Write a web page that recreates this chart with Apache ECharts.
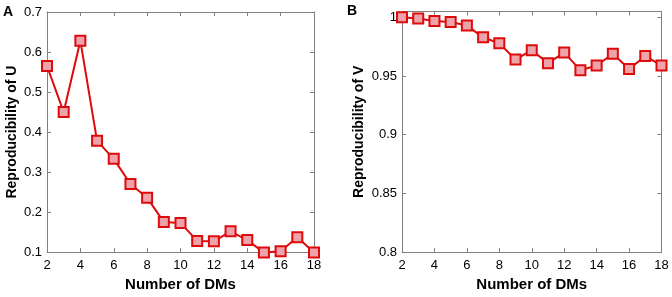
<!DOCTYPE html>
<html>
<head>
<meta charset="utf-8">
<script src="https://cdn.jsdelivr.net/npm/echarts@6/dist/echarts.min.js"></script>
<style>
  html, body { margin: 0; padding: 0; background: #fff; }
  #chart { width: 672px; height: 297px; }
</style>
</head>
<body>
<div id="chart"></div>
<script>
// number of DMs
const dmCounts = [2, 3, 4, 5, 6, 7, 8, 9, 10, 11, 12, 13, 14, 15, 16, 17, 18];
// panel A: reproducibility of U
const reproU = [0.565, 0.450, 0.628, 0.378, 0.333, 0.270, 0.236, 0.175, 0.173,
                0.128, 0.127, 0.152, 0.130, 0.099, 0.102, 0.137, 0.099];
// panel B: reproducibility of V
const reproV = [1.000, 0.999, 0.997, 0.996, 0.993, 0.983, 0.978, 0.964, 0.972,
                0.961, 0.970, 0.955, 0.959, 0.969, 0.956, 0.967, 0.959];

const axisColor = "#808080";
const fontFam = "Liberation Sans, Arial, Helvetica, sans-serif";
const lineRed = "#dd0b0b";
const fillPink = "#eea3ab";

let myChart = echarts.init(document.getElementById("chart"), null, { renderer: "canvas" });

function xAx(gridIndex, pos) {
  return {
    type: "value",
    gridIndex: gridIndex,
    position: pos,
    min: 2,
    max: 18,
    interval: 2,
    name: pos === "bottom" ? "Number of DMs" : "",
    nameLocation: "middle",
    nameGap: 24,
    nameTextStyle: { fontFamily: fontFam, fontSize: 15, fontWeight: "bold", color: "#000" },
    axisLine: { show: true, onZero: false, lineStyle: { color: axisColor, width: 1 } },
    axisTick: { show: true, inside: true, length: 4, lineStyle: { color: axisColor } },
    axisLabel: { show: pos === "bottom", margin: 7, fontFamily: fontFam, fontSize: 13, color: "#000" },
    splitLine: { show: false },
  };
}

function yAx(gridIndex, pos, min, max, interval, name, gap) {
  return {
    type: "value",
    gridIndex: gridIndex,
    position: pos,
    min: min,
    max: max,
    interval: interval,
    name: pos === "left" ? name : "",
    nameLocation: "middle",
    nameGap: gap,
    nameTextStyle: { fontFamily: fontFam, fontSize: 14, fontWeight: "bold", color: "#000" },
    axisLine: { show: true, onZero: false, lineStyle: { color: axisColor, width: 1 } },
    axisTick: { show: true, inside: true, length: 4, lineStyle: { color: axisColor } },
    axisLabel: {
      show: pos === "left",
      margin: 5,
      showMaxLabel: max === 0.7,
      fontFamily: fontFam,
      fontSize: 13,
      color: "#000",
    },
    splitLine: { show: false },
  };
}

function lineSeries(xi, yi, vals) {
  return {
    type: "line",
    xAxisIndex: xi,
    yAxisIndex: yi,
    data: dmCounts.map((d, i) => [d, vals[i]]),
    symbol: "rect",
    symbolSize: 10,
    showAllSymbol: true,
    clip: false,
    lineStyle: { color: lineRed, width: 2 },
    itemStyle: { color: fillPink, borderColor: lineRed, borderWidth: 2 },
    emphasis: { disabled: true },
    animation: false,
    z: 5,
  };
}

myChart.setOption({
  animation: false,
  grid: [
    { left: 47, right: 358, top: 12, bottom: 41.5 },
    { left: 402, right: 10.5, top: 11.5, bottom: 41.5 },
  ],
  title: [
    { text: "A", left: 3, top: 5, padding: 0, textStyle: { fontFamily: fontFam, fontSize: 14, fontWeight: "bold", color: "#000" } },
    { text: "B", left: 347, top: 4, padding: 0, textStyle: { fontFamily: fontFam, fontSize: 14, fontWeight: "bold", color: "#000" } },
  ],
  xAxis: [xAx(0, "bottom"), xAx(0, "top"), xAx(1, "bottom"), xAx(1, "top")],
  yAxis: [
    yAx(0, "left", 0.1, 0.7, 0.1, "Reproducibility of U", 28),
    yAx(0, "right", 0.1, 0.7, 0.1, "", 0),
    yAx(1, "left", 0.8, 1.005, 0.05, "Reproducibility of V", 36),
    yAx(1, "right", 0.8, 1.005, 0.05, "", 0),
  ],
  series: [lineSeries(0, 0, reproU), lineSeries(2, 2, reproV)],
});
</script>
</body>
</html>
